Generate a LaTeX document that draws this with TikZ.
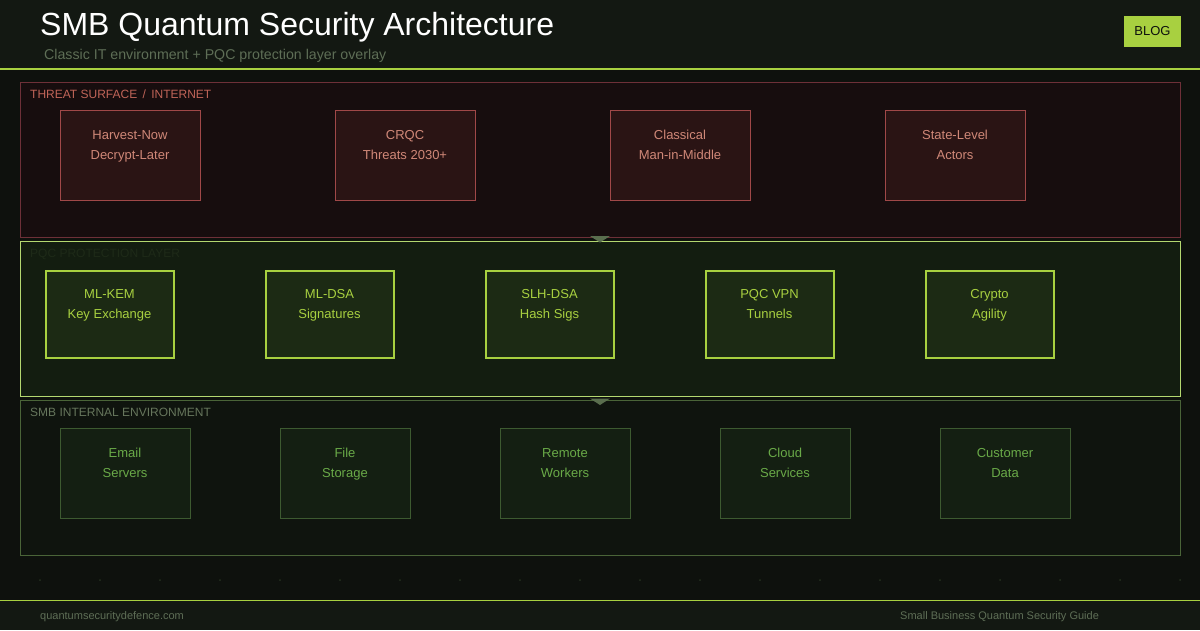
\documentclass[tikz,border=0pt]{standalone}
\usepackage{fontspec}
\setmainfont{Liberation Sans}
\definecolor{bgmain}{HTML}{0E110D}
\definecolor{bghead}{HTML}{131812}
\definecolor{lime}{HTML}{A8D040}
\definecolor{limepale}{HTML}{B4D870}
\definecolor{subtxt}{HTML}{5E6E56}
\definecolor{thrfill}{HTML}{170D0E}
\definecolor{thrline}{HTML}{6E3038}
\definecolor{thrbox}{HTML}{2A1414}
\definecolor{thrboxline}{HTML}{A04848}
\definecolor{thrtxt}{HTML}{D08878}
\definecolor{thrlabel}{HTML}{C06458}
\definecolor{pqcfill}{HTML}{131D10}
\definecolor{pqcbox}{HTML}{1C2A14}
\definecolor{pqclabel}{HTML}{1E2A18}
\definecolor{smbfill}{HTML}{0F140E}
\definecolor{smbline}{HTML}{4A6438}
\definecolor{smbbox}{HTML}{141F12}
\definecolor{smbboxline}{HTML}{3D5A30}
\definecolor{smbtxt}{HTML}{6AAA48}
\definecolor{smblabel}{HTML}{66765C}
\definecolor{arrowc}{HTML}{5A6E4E}
\definecolor{dotc}{HTML}{25301F}
\begin{document}
\begin{tikzpicture}[x=1pt,y=-1pt,
  layerbox/.style={draw, line width=1pt, minimum width=1160pt, minimum height=155pt, inner sep=0pt},
  thrnode/.style={draw=thrboxline, fill=thrbox, line width=1pt, minimum width=140pt, minimum height=90pt, inner sep=0pt},
  pqcnode/.style={draw=lime, fill=pqcbox, line width=2pt, minimum width=128pt, minimum height=87pt, inner sep=0pt},
  smbnode/.style={draw=smbboxline, fill=smbbox, line width=1pt, minimum width=130pt, minimum height=90pt, inner sep=0pt},
  boxtext/.style={font=\fontsize{13}{20}\selectfont, align=center, inner sep=0pt, anchor=base},
  laylabel/.style={font=\fontsize{12}{14}\selectfont, inner sep=0pt, anchor=base west},
  foot/.style={font=\fontsize{11}{13}\selectfont, text=subtxt, inner sep=0pt, anchor=base west},
  tri/.style={fill=arrowc, draw=none}
]
\useasboundingbox (0,0) rectangle (1200,630);
\fill[bgmain] (0,0) rectangle (1200,630);
\fill[bghead] (0,0) rectangle (1200,69);
\fill[bghead] (0,600) rectangle (1200,630);
\draw[lime, line width=2pt] (0,69) -- (1200,69);
\draw[lime, line width=1pt] (0,600.5) -- (1200,600.5);

% header
\node[font=\fontsize{32}{36}\selectfont, text=white, inner sep=0pt, anchor=base west] (title) at (40,35) {SMB Quantum Security Architecture};
\node[font=\fontsize{14.2}{16}\selectfont, text=subtxt, inner sep=0pt, anchor=base west] (subtitle) at (44,59) {Classic IT environment + PQC protection layer overlay};
\node[fill=lime, minimum width=57pt, minimum height=31pt, inner sep=0pt, font=\fontsize{13}{15}\selectfont, text=bgmain] (blog) at (1152.5,31) {BLOG};

% dots
\foreach \i in {0,...,19} {
  \fill[dotc] (40+60*\i,580) circle (1pt);
}

% layers
\node[layerbox, draw=thrline, fill=thrfill] (threat) at (600,159.5) {};
\node[layerbox, draw=limepale, fill=pqcfill] (pqc) at (600,318.5) {};
\node[layerbox, draw=smbline, fill=smbfill] (smb) at (600,477.5) {};

\node[laylabel, text=thrlabel] (threatlbl) at (30,98) {THREAT SURFACE \,/\, INTERNET};
\node[laylabel, text=pqclabel] (pqclbl) at (30,257) {PQC PROTECTION LAYER};
\node[laylabel, text=smblabel] (smblbl) at (30,416) {SMB INTERNAL ENVIRONMENT};

% flow triangles
\coordinate (a1) at (600,242.5);
\coordinate (a2) at (600,405);
\fill[tri] (a1) ++(-10,-6.5) -- ++(20,0) -- (a1) -- cycle;
\fill[tri] (a2) ++(-10,-6.5) -- ++(20,0) -- (a2) -- cycle;

% threat boxes
\foreach \n/\x/\a/\b in {t1/130/Harvest-Now/Decrypt-Later, t2/405/CRQC/Threats 2030+, t3/680/Classical/Man-in-Middle, t4/955/State-Level/Actors} {
  \node[thrnode] (\n) at (\x,155.5) {};
  \node[boxtext, text=thrtxt] (\n txt) at (\x,159) {\a\\\b};
}

% pqc boxes
\foreach \n/\x/\a/\b in {p1/109.5/ML-KEM/Key Exchange, p2/329.5/ML-DSA/Signatures, p3/549.5/SLH-DSA/Hash Sigs, p4/769.5/PQC VPN/Tunnels, p5/989.5/Crypto/Agility} {
  \node[pqcnode] (\n) at (\x,314) {};
  \node[boxtext, text=lime] (\n txt) at (\x,318) {\a\\\b};
}

% smb boxes
\foreach \n/\x/\a/\b in {s1/125/Email/Servers, s2/345/File/Storage, s3/565/Remote/Workers, s4/785/Cloud/Services, s5/1005/Customer/Data} {
  \node[smbnode] (\n) at (\x,473) {};
  \node[boxtext, text=smbtxt] (\n txt) at (\x,477) {\a\\\b};
}

% footer
\node[foot] (footl) at (40,619) {quantumsecuritydefence.com};
\node[foot] (footr) at (900,619) {Small Business Quantum Security Guide};
\end{tikzpicture}
\end{document}
